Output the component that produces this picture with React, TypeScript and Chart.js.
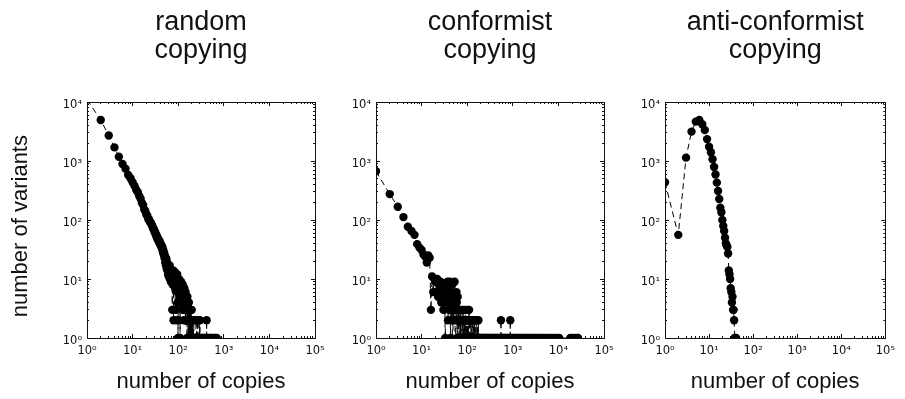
import React, { useEffect, useRef } from "react";
import { Chart, registerables } from "chart.js";

Chart.register(...registerables);

// ---------------- data ----------------
// number of variants for "number of copies" = 1, 2, 3, ... (head of each distribution)
const RANDOM_COUNTS = [
  11000, 4950, 2700, 1700, 1180, 890, 740, 580, 510, 435,
  380, 325, 295, 255, 230, 195, 180, 150, 142, 124,
  118, 104, 102, 92, 91, 83, 80, 72, 71, 64,
  63, 56, 57, 50, 51, 46, 47, 42, 44, 39,
  40, 36, 37, 33, 35, 29, 31, 26, 28, 23,
  25, 19, 23, 17, 22, 15, 19, 14, 18, 12,
  16, 11, 15, 12, 17, 10, 14, 13, 9, 12,
  14, 9, 12, 3, 13, 8, 11, 14, 2, 10,
  12, 8, 11, 9, 13, 7, 3, 12, 8, 9,
  11, 2, 10, 8, 12, 6, 4, 10, 1, 8,
  9, 6, 8, 10, 2, 7, 9, 6, 8, 1,
  5, 8, 6, 7, 4, 9, 6, 5, 7, 6,
  4, 7, 5, 6, 3, 8, 5, 4, 6, 5,
  3, 6, 4, 5, 2, 7, 4, 5, 3, 4,
  5, 3, 4, 2, 6, 3, 4, 5, 2, 4,
  3, 5, 2, 4, 3, 1, 4, 3, 5, 2,
  3, 4, 2, 3, 1, 4, 3, 2, 3, 0,
  4, 2, 3, 1, 2, 3, 0, 2, 3, 1,
  2, 3, 0, 2, 1, 3, 2, 0, 1, 2,
  3, 1, 0, 2, 1, 2, 0, 3, 1, 2,
];
// sparse tail (number of copies, number of variants)
const RANDOM_TAIL_COPIES = [
  203, 207, 211, 215, 220, 224, 229, 233, 238, 243,
  248, 254, 260, 266, 272, 279, 286, 293, 300, 301,
  310, 320, 331, 343, 356, 370, 385, 400, 419, 420,
  421, 438, 458, 480, 505, 530, 560, 592, 625, 660,
  700,
];
const RANDOM_TAIL_COUNTS = [
  1, 2, 0, 1, 2, 0, 1, 1, 0, 1,
  2, 1, 0, 2, 1, 0, 2, 1, 2, 0,
  1, 1, 0, 1, 1, 1, 0, 1, 0, 2,
  0, 1, 1, 0, 1, 1, 1, 0, 1, 1,
  1,
];

const CONFORMIST_COUNTS = [
  670, 275, 168, 112, 77, 65, 56, 39, 34, 31,
  26, 24, 19, 25, 23, 3, 11, 6, 10, 9,
  6, 10, 5, 8, 7, 9, 4, 6, 7, 3,
  5, 6, 1, 4, 8, 5, 9, 2, 6, 3,
  4, 9, 1, 3, 6, 2, 8, 0, 5, 3,
  2, 4, 9, 3, 0, 5, 2, 6, 4, 1,
  2, 5, 0, 1, 2, 3, 1, 0, 2, 1,
  3, 0, 2, 1, 1, 0, 3, 2, 0, 1,
  2, 0, 1, 3, 1, 0, 2, 1, 0, 2,
  1, 0, 3, 1, 0, 2, 0, 1, 1, 2,
  0, 1, 3, 0, 1, 2, 0, 1, 0, 3,
  1, 0, 2, 1, 0, 1, 2, 0, 1, 0,
  1, 2, 0, 1, 0, 0, 2, 1, 0, 1,
  0, 2, 0, 1, 1, 0, 0, 2, 1, 0,
  1, 0, 0, 2, 0, 1, 0, 1, 0, 2,
  0, 0, 1, 0, 1, 0, 0, 2, 0, 1,
  0, 0, 1, 0, 1, 0, 0, 2, 0, 0,
  1, 0, 0, 1, 0, 2, 0, 0, 1, 0,
];
const CONFORMIST_TAIL_COPIES = [
  186, 195, 205, 216, 228, 241, 255, 270, 286, 303,
  321, 340, 360, 382, 405, 430, 456, 484, 513, 549,
  550, 551, 585, 620, 658, 698, 740, 785, 832, 879,
  880, 881, 935, 995, 1060, 1130, 1210, 1300, 1400, 1510,
  1630, 1760, 1900, 2060, 2240, 2440, 2660, 2900, 3170, 3470,
  3800, 4170, 4580, 5040, 5550, 6120, 6760, 7480, 8290, 9200,
  10400, 18300, 20500, 23000, 25500, 27000,
];
const CONFORMIST_TAIL_COUNTS = [
  1, 1, 1, 1, 1, 1, 1, 1, 1, 1,
  1, 1, 1, 1, 1, 1, 1, 1, 1, 0,
  2, 0, 1, 1, 1, 1, 1, 1, 1, 0,
  2, 0, 1, 1, 1, 1, 1, 1, 1, 1,
  1, 1, 1, 1, 1, 1, 1, 1, 1, 1,
  1, 1, 1, 1, 1, 1, 1, 1, 1, 1,
  1, 1, 1, 1, 1, 1,
];

const ANTI_COUNTS = [
  435, 56, 1140, 3150, 4650, 4950, 4200, 3350, 2350, 1740,
  1410, 1070, 790, 590, 430, 310, 227, 162, 135, 100,
  79, 65, 50, 40, 37, 35, 27, 14, 12, 10,
  7, 6, 4, 5, 3, 3, 2, 1, 1, 0,
  1,
];
const ANTI_TAIL_COPIES: number[] = [];
const ANTI_TAIL_COUNTS: number[] = [];

const PANEL_TITLES = [
  ["random", "copying"],
  ["conformist", "copying"],
  ["anti-conformist", "copying"],
];
const X_LABEL = "number of copies";
const Y_LABEL = "number of variants";

const X_MAJOR = [1, 10, 100, 1000, 10000, 100000];
const X_TICK_LABELS = ["10⁰", "10¹", "10²", "10³", "10⁴", "10⁵"];
const Y_MAJOR = [1, 10, 100, 1000, 10000];
const Y_TICK_LABELS = ["10⁰", "10¹", "10²", "10³", "10⁴"];

// ---------------- layout / style ----------------
const FIG_W = 905;
const FIG_H = 399;
const PLOT_TOP = 102;
const PLOT_BOTTOM = 338;
const ZERO_FLOOR = 1e-3; // a log axis cannot show 0: it is drawn far below the frame, as matplotlib does
const TEXT_FONT = '"Liberation Sans", Arial, Helvetica, sans-serif';
const TICK_FONT = '"DejaVu Sans", sans-serif';

const PANELS = [
  { left: 0, width: 340, plotLeft: 87, plotRight: 315, showY: true,
    counts: RANDOM_COUNTS, tailX: RANDOM_TAIL_COPIES, tailY: RANDOM_TAIL_COUNTS },
  { left: 340, width: 290, plotLeft: 376, plotRight: 604, showY: false,
    counts: CONFORMIST_COUNTS, tailX: CONFORMIST_TAIL_COPIES, tailY: CONFORMIST_TAIL_COUNTS },
  { left: 630, width: 275, plotLeft: 665, plotRight: 893, showY: false,
    counts: ANTI_COUNTS, tailX: ANTI_TAIL_COPIES, tailY: ANTI_TAIL_COUNTS },
];

function minorTicks(lo: number, hi: number) {
  const out: { value: number }[] = [];
  for (let e = Math.round(Math.log10(lo)); e < Math.round(Math.log10(hi)); e++) {
    for (let m = 2; m <= 9; m++) out.push({ value: m * Math.pow(10, e) });
  }
  return out;
}

function buildPoints(counts: number[], tailX: number[], tailY: number[]) {
  const pts: { x: number; y: number }[] = [];
  counts.forEach((c, i) => pts.push({ x: i + 1, y: c > 0 ? c : ZERO_FLOOR }));
  tailX.forEach((x, i) => pts.push({ x, y: tailY[i] > 0 ? tailY[i] : ZERO_FLOOR }));
  return pts;
}

function tickAxis(
  axis: "x" | "y",
  position: string,
  weight: number,
  min: number,
  max: number,
  ticks: () => { value: number }[],
  len: number,
  size: number,
  border: boolean
) {
  return {
    type: "logarithmic",
    axis,
    position,
    weight,
    min,
    max,
    afterBuildTicks: (s: any) => {
      s.ticks = ticks();
    },
    afterFit: (s: any) => {
      if (axis === "x") s.height = size;
      else s.width = size;
    },
    grid: { display: true, drawOnChartArea: false, drawTicks: true, tickLength: -len, tickColor: "#111", tickWidth: 1 },
    border: { display: border, color: "#111", width: 1 },
    ticks: { display: false, autoSkip: false },
  };
}

function Panel({ idx }: { idx: number }) {
  const ref = useRef<HTMLCanvasElement | null>(null);
  const p = PANELS[idx];

  useEffect(() => {
    if (!ref.current) return;
    const leftW = p.plotLeft - p.left;
    const rightW = p.left + p.width - p.plotRight;
    const bottomH = FIG_H - PLOT_BOTTOM;
    const majorX = () => X_MAJOR.map((v) => ({ value: v }));
    const majorY = () => Y_MAJOR.map((v) => ({ value: v }));
    const minX = () => minorTicks(1, 1e5);
    const minY = () => minorTicks(1, 1e4);

    const chart = new Chart(ref.current, {
      type: "line",
      data: {
        datasets: [
          {
            data: buildPoints(p.counts, p.tailX, p.tailY),
            borderColor: "#000",
            borderWidth: 1,
            borderDash: [6, 4],
            tension: 0,
            fill: false,
            clip: 0,
            pointRadius: (c: any) => (c.raw && c.raw.y >= 1 ? 4.2 : 0),
            pointBackgroundColor: "#000",
            pointBorderColor: "#000",
            pointBorderWidth: 0,
          } as any,
        ],
      },
      options: {
        responsive: false,
        animation: false,
        events: [],
        layout: { padding: 0 },
        plugins: {
          legend: { display: false },
          tooltip: { enabled: false },
          title: {
            display: true,
            text: PANEL_TITLES[idx],
            fullSize: false,
            color: "#111",
            font: { family: TEXT_FONT, size: 27, weight: "normal", lineHeight: "28.3px" },
            padding: { top: 8, bottom: 37.4 },
          },
        },
        scales: {
          x: {
            ...tickAxis("x", "bottom", 1, 1, 1e5, majorX, 4, bottomH, true),
            ticks: {
              display: true,
              autoSkip: false,
              maxRotation: 0,
              minRotation: 0,
              padding: 10,
              color: "#111",
              font: { family: TICK_FONT, size: 11.5 },
              callback: (_v: any, i: number) => X_TICK_LABELS[i],
            },
            title: {
              display: true,
              text: X_LABEL,
              color: "#111",
              font: { family: TEXT_FONT, size: 22, lineHeight: 1.2 },
              padding: { top: 0, bottom: 3.5 },
            },
          },
          xMinor: tickAxis("x", "bottom", 0, 1, 1e5, minX, 2, 0, false),
          xTop: tickAxis("x", "top", 1, 1, 1e5, majorX, 4, 0, true),
          xTopMinor: tickAxis("x", "top", 0, 1, 1e5, minX, 2, 0, false),
          y: {
            ...tickAxis("y", "left", 1, 1, 1e4, majorY, 4, leftW, true),
            ticks: {
              display: true,
              autoSkip: false,
              padding: 9,
              labelOffset: 3,
              color: "#111",
              font: { family: TICK_FONT, size: 11.5 },
              callback: (_v: any, i: number) => Y_TICK_LABELS[i],
            },
            title: {
              display: p.showY,
              text: Y_LABEL + "  ",
              color: "#111",
              font: { family: TEXT_FONT, size: 22, lineHeight: 1.2 },
              padding: { top: 7.4, bottom: 0 },
            },
          },
          yMinor: tickAxis("y", "left", 0, 1, 1e4, minY, 2, 0, false),
          yRight: tickAxis("y", "right", 1, 1, 1e4, majorY, 4, rightW, true),
          yRightMinor: tickAxis("y", "right", 0, 1, 1e4, minY, 2, 0, false),
        } as any,
      },
    } as any);
    return () => chart.destroy();
  }, [idx]);

  return (
    <canvas
      ref={ref}
      width={p.width}
      height={FIG_H}
      style={{ position: "absolute", left: p.left, top: 0, width: p.width, height: FIG_H }}
    />
  );
}

export default function App() {
  return (
    <div
      style={{
        position: "absolute",
        left: 0,
        top: 0,
        width: FIG_W,
        height: FIG_H,
        overflow: "hidden",
        background: "#fff",
      }}
    >
      {PANELS.map((_, i) => (
        <Panel key={i} idx={i} />
      ))}
    </div>
  );
}
